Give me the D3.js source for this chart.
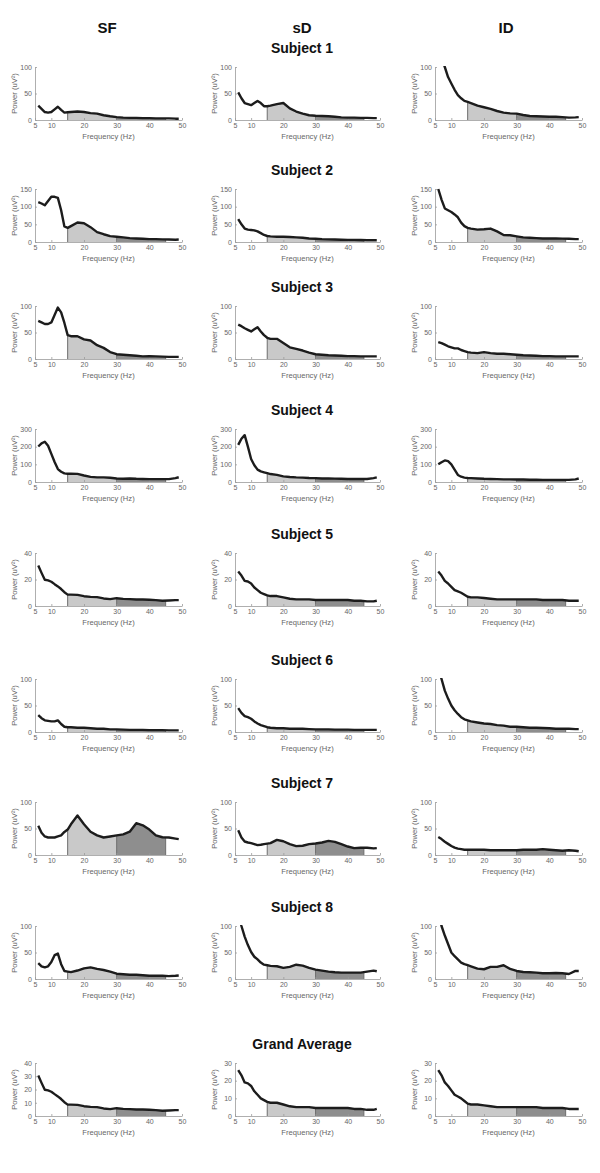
<!DOCTYPE html>
<html><head><meta charset="utf-8">
<script src="https://cdn.jsdelivr.net/npm/d3@7"></script>
<style>body{margin:0;background:#fff} text{font-family:Arial,"Liberation Sans",sans-serif}</style>
</head><body><svg id="c" width="600" height="1173"></svg>
<script>
// ---- data ----
const freq = [6,7,8,9,10,11,12,13,14,15,16,18,20,22,24,26,28,30,32,34,36,38,40,42,44,46,48,49];
const conditions = ["SF","sD","ID"];
const rowTitles = ["Subject 1","Subject 2","Subject 3","Subject 4","Subject 5","Subject 6","Subject 7","Subject 8","Grand Average"];
const xTicks = [5,10,20,30,40,50];
const bandEdges = [15,30,45];

const sf_s1 = [27,21,15,14,15,20,25,19,14,14.5,15,16,15,13,12,9,7,5.5,4.5,4,4,3.5,3.5,3,3,3,2.5,2.5];
const sd_s1 = [52,41,32,30,28,32,36,32,26,26,27,30,32,22,16,12,9,8,7.5,7,6,5,4.5,4.5,4,4,3.5,3.5];
const id_s1 = [140,118,100,81,69,57,47,41,36,34,32,27,24,21,17,14,12.5,12,9.5,7.5,7,6.5,6,6,5.5,4.5,5,5.5];
const sf_s2 = [113,109,104,116,128,128,125,90,44,40,45,55,53,42,28,22,16.5,15,13,11,10,9,8,8,7.5,7,6.5,7];
const sd_s2 = [65,50,38,35,34,33,30,25,20,17,16,15,15,14,13,12,10,9,8,7.5,7,6.5,6,6,5.5,5,5,5];
const id_s2 = [150,120,95,90,85,78,70,55,45,40,38,35,36,38,30,20,19,16,13,12,11,10,10,10,9.5,9,8,8];
const sf_s3 = [72,69,66,66,69,83,97,88,68,45,43,43,37,35,26,21,13,9,8,7,6,5,5.5,5,4.5,4,4,4];
const sd_s3 = [65,62,58,55,52,56,60,52,45,40,38,38,30,22,19,16,12,9,8,7,6.5,6,5.5,5.5,5,5,5,5];
const id_s3 = [32,30,27,24,22,20,20,17,15,13,12,11,13,11,10,10,9,8,7,6.5,6,5.5,5.5,5,5,5,5,5];
const sf_s4 = [201,219,228,205,159,113,73,58,49,47,47,46,37,29,26,26,24,20,18,20,18,17,16,16,16,16,22,27];
const sd_s4 = [210,245,265,200,130,95,70,60,55,50,45,40,32,28,26,25,23,22,20,20,19,18,17,17,17,17,22,26];
const id_s4 = [100,112,122,118,100,70,40,30,25,23,22,20,18,17,16,15,15,14,14,13,13,12,12,12,12,12,15,20];
const sf_s5 = [30.5,25,19.8,19.3,18.3,16.5,14.8,12.8,10.4,8.6,8.6,8.4,7.4,6.9,6.7,5.7,5.2,5.9,5.4,5.2,4.9,4.9,4.7,4.4,4.0,4.2,4.4,4.4];
const sd_s5 = [26,23,19,18.5,17,14,12,10,9,8,7.5,7.5,6.5,5.5,5,5,5,4.5,4.5,4.5,4.5,4.5,4.5,4,4,3.5,3.5,4];
const id_s5 = [26,23,19,17,14.5,12,11,10,8.5,7,6.5,6.5,6,5.5,5,5,5,5,5,5,5,4.5,4.5,4.5,4.5,4,4,4];
const sf_s6 = [32,26,22,21,20,20,22,15,10,9,9,8,8,7,6,6,5,5,4.5,4,4,4,3.5,3.5,3.5,3,3,3];
const sd_s6 = [45,36,30,28,25,20,16,13,11,9,8,7,7,6,6,6,5.5,5,5,5,4.5,4.5,4.5,4,4,4,4,4];
const id_s6 = [120,100,78,63,50,41,34,28,24,22,20,18,16,15,13,12,10,10,9,8,8,7.5,7,6,6,6,5.5,5.5];
const sf_s7 = [55,42,35,33,33,33,35,37,43.5,48,58,74.5,58,44,37,33,35,37,39,44,60,56,48,37,33.5,33,31,30];
const sd_s7 = [46.6,33,25.5,23.6,22.4,20.5,18.6,19.3,20.5,21.5,22.4,28.6,26,20.5,16.8,17.4,20.5,21.7,23.6,26.7,24.8,20.5,16,13,13.7,13.7,12.4,13];
const id_s7 = [34,30,25,21,17,14,12,11,10,10,10,10,10,9,9,9,9,9,10,10,10,11,10,9,8,9,8,7];
const sf_s8 = [30,24,22,24,32,45,48,28,15,14,13,16,20,22,19,17,14,10,9,8,8,7,6,6,6,5.5,6,6.5];
const sd_s8 = [125,100,80,64,51,42,37,31,27,26,24.7,24,21,23,27,25.3,21,17.7,15.8,14,12.7,12,12,12,12,14,15.8,14.6];
const id_s8 = [125,100,82,66,50,43,37,31,28,26,24,19.6,18.4,22.8,22.8,26,19,15.2,13.3,12.7,12,10.8,10.8,11.4,10.8,9.5,15.2,15.2];
const sf_ga = [30.5,25,19.8,19.3,18.3,16.5,14.8,12.8,10.4,8.6,8.6,8.4,7.4,6.9,6.7,5.7,5.2,5.9,5.4,5.2,4.9,4.9,4.7,4.4,4.0,4.2,4.4,4.4];
const sd_ga = [26,23,19,18.5,17,14,12,10,9,8,7.5,7.5,6.5,5.5,5,5,5,4.5,4.5,4.5,4.5,4.5,4.5,4,4,3.5,3.5,4];
const id_ga = [26,23,19,17,14.5,12,11,10,8.5,7,6.5,6.5,6,5.5,5,5,5,5,5,5,5,4.5,4.5,4.5,4.5,4,4,4];

const yMax = [[100,100,100],[150,150,150],[100,100,100],[300,300,300],[40,40,40],[100,100,100],[100,100,100],[100,100,100],[40,30,30]];
const yStep = [[50,50,50],[50,50,50],[50,50,50],[100,100,100],[20,20,20],[50,50,50],[50,50,50],[50,50,50],[10,10,10]];

const panelData = [
  [sf_s1,sd_s1,id_s1],[sf_s2,sd_s2,id_s2],[sf_s3,sd_s3,id_s3],[sf_s4,sd_s4,id_s4],
  [sf_s5,sd_s5,id_s5],[sf_s6,sd_s6,id_s6],[sf_s7,sd_s7,id_s7],[sf_s8,sd_s8,id_s8],[sf_ga,sd_ga,id_ga]
];

// ---- layout ----
const colX = [[35,182],[235,380],[435,582]];
const headerX = [107,302,506];
const rowTop = [67,189,306,429,553,679,802,926,1063];
const plotH = 53;
const bandFill = ["#c9c9c9","#8e8e8e"];

const svg = d3.select('#c');
const defs = svg.append('defs');

conditions.forEach((c,i)=>{
  svg.append('text').attr('x',headerX[i]).attr('y',33).attr('text-anchor','middle')
    .attr('font-size',15).attr('font-weight','bold').attr('fill','#111').text(c);
});

function interp(vals, f){
  for(let k=0;k<freq.length-1;k++){
    if(f>=freq[k] && f<=freq[k+1]){
      const t=(f-freq[k])/(freq[k+1]-freq[k]);
      return vals[k]+(vals[k+1]-vals[k])*t;
    }
  }
  return vals[vals.length-1];
}

rowTitles.forEach((title, r)=>{
  svg.append('text').attr('x',302).attr('y',rowTop[r]-14).attr('text-anchor','middle')
    .attr('font-size',14).attr('font-weight','bold').attr('fill','#111').text(title);
  for(let c=0;c<3;c++){
    const vals = panelData[r][c];
    const pts = freq.map((f,k)=>({f, v: vals[k]}));
    const x = d3.scaleLinear().domain([5,50]).range(colX[c]);
    const y = d3.scaleLinear().domain([0,yMax[r][c]]).range([rowTop[r]+plotH,rowTop[r]]);
    const g = svg.append('g');
    const cid = `clip-${r}-${c}`;
    defs.append('clipPath').attr('id',cid).append('rect')
      .attr('x',x(5)).attr('y',y(yMax[r][c])-1).attr('width',x(50)-x(5)).attr('height',plotH+1);
    // bands
    const area = d3.area().x(d=>x(d.f)).y0(y(0)).y1(d=>y(d.v));
    [[bandEdges[0],bandEdges[1]],[bandEdges[1],bandEdges[2]]].forEach((b,bi)=>{
      const bid = `band-${r}-${c}-${bi}`;
      defs.append('clipPath').attr('id',bid).append('rect')
        .attr('x',x(b[0])).attr('y',y(yMax[r][c])).attr('width',x(b[1])-x(b[0])).attr('height',plotH);
      g.append('g').attr('clip-path',`url(#${bid})`).append('path')
        .attr('d',area(pts)).attr('fill',bandFill[bi]);
    });
    bandEdges.forEach(e=>{
      const v = Math.min(interp(vals,e), yMax[r][c]);
      g.append('line').attr('x1',x(e)).attr('x2',x(e)).attr('y1',y(0)).attr('y2',y(v))
        .attr('stroke','#6e6e6e').attr('stroke-width',1);
    });
    // axes
    const ticksY = d3.range(0, yMax[r][c]+0.001, yStep[r][c]);
    const ay = g.append('g').attr('transform',`translate(${x(5)},0)`)
      .call(d3.axisLeft(y).tickValues(ticksY).tickSizeInner(-2).tickSizeOuter(0).tickPadding(3));
    const ax = g.append('g').attr('transform',`translate(0,${y(0)})`)
      .call(d3.axisBottom(x).tickValues(xTicks).tickSizeInner(-2).tickSizeOuter(0).tickPadding(3));
    [ay,ax].forEach(a=>{
      a.selectAll('path,line').attr('stroke','#9a9a9a').attr('stroke-width',0.8);
      a.selectAll('text').attr('font-size',7).attr('fill','#666').attr('font-family','Arial, Liberation Sans, sans-serif');
    });
    // line
    g.append('path').attr('clip-path',`url(#${cid})`)
      .attr('d',d3.line().x(d=>x(d.f)).y(d=>y(d.v))(pts))
      .attr('fill','none').attr('stroke','#1c1c1c').attr('stroke-width',2.4)
      .attr('stroke-linejoin','round').attr('stroke-linecap','butt');
    // labels
    const mid = (rowTop[r]*2+plotH)/2;
    g.append('text').attr('transform',`translate(${x(5)-18},${mid}) rotate(-90)`)
      .attr('text-anchor','middle').attr('font-size',7.6).attr('fill','#666').text('Power (uV²)');
    g.append('text').attr('x',(x(5)+x(50))/2).attr('y',y(0)+19).attr('text-anchor','middle')
      .attr('font-size',7.6).attr('fill','#666').text('Frequency (Hz)');
  }
});
</script></body></html>
